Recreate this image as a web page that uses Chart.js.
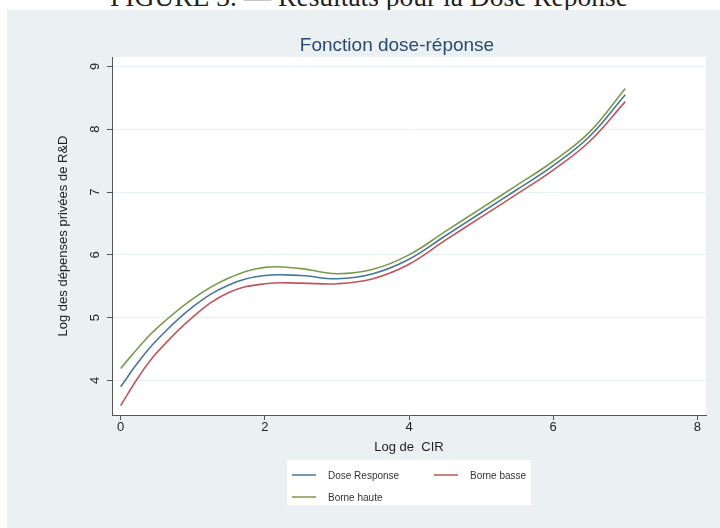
<!DOCTYPE html>
<html>
<head>
<meta charset="utf-8">
<script src="https://cdn.jsdelivr.net/npm/chart.js@4/dist/chart.umd.min.js"></script>
<style>
  html, body { margin: 0; padding: 0; background: #fff; }
  body { width: 720px; height: 528px; position: relative; overflow: hidden; }
  #caption {
    position: absolute; left: 0; top: -17px; width: 738px; text-align: center;
    font-family: "Liberation Serif", "DejaVu Serif", serif; font-size: 27.5px; line-height: 27.5px;
    color: #222; white-space: nowrap;
  }
  #panel {
    position: absolute; left: 7px; top: 10px; width: 713px; height: 518px;
    background: #ebf1f3;
  }
</style>
</head>
<body>
<div id="caption">FIGURE 3. — Résultats pour la Dose Réponse</div>
<div id="panel"><canvas id="doseChart" width="713" height="518"></canvas></div>
<script>
// Valeurs
const logCIR = [0, 0.25, 0.5, 1, 1.5, 2, 2.5, 3, 3.5, 4, 4.5, 5, 5.5, 6, 6.5, 7];
const doseResponse = [3.90, 4.30, 4.64, 5.17, 5.52, 5.67, 5.67, 5.62, 5.70, 5.93, 6.30, 6.67, 7.04, 7.42, 7.88, 8.55];
const borneBasse = [3.60, 4.06, 4.44, 5.01, 5.40, 5.54, 5.55, 5.54, 5.62, 5.85, 6.23, 6.60, 6.97, 7.35, 7.80, 8.44];
const borneHaute = [4.19, 4.53, 4.83, 5.30, 5.63, 5.80, 5.78, 5.70, 5.77, 6.00, 6.37, 6.74, 7.11, 7.49, 7.95, 8.65];
const xTicks = [0, 2, 4, 6, 8];
const yTicks = [4, 5, 6, 7, 8, 9];

const toPoints = ys => logCIR.map((x, i) => ({ x: x, y: ys[i] }));
const font = '"Liberation Sans", Arial, sans-serif';

// fond blanc de la zone de tracé + titre + légende façon Stata
const stataLook = {
  id: 'stataLook',
  beforeDraw(chart) {
    const { ctx, chartArea: a } = chart;
    ctx.save();
    ctx.fillStyle = '#ffffff';
    ctx.fillRect(a.left, a.top, a.right - a.left, a.bottom - a.top);
    ctx.restore();
  },
  afterDraw(chart) {
    const ctx = chart.ctx;
    ctx.save();
    ctx.fillStyle = '#2a4a6f';
    ctx.font = '19px ' + font;
    ctx.textAlign = 'center';
    ctx.textBaseline = 'middle';
    ctx.fillText('Fonction dose-réponse', 390, 36);

    // légende
    ctx.fillStyle = '#ffffff';
    ctx.fillRect(280, 450, 244, 45);
    const slots = [[285, 465], [427, 465], [285, 487]];
    ctx.font = '10px ' + font;
    ctx.textAlign = 'left';
    chart.data.datasets.forEach((ds, i) => {
      const [lx, ly] = slots[i];
      ctx.strokeStyle = ds.borderColor;
      ctx.lineWidth = 1.5;
      ctx.beginPath();
      ctx.moveTo(lx, ly);
      ctx.lineTo(lx + 24, ly);
      ctx.stroke();
      ctx.fillStyle = '#333';
      ctx.fillText(ds.label, lx + 36, ly + 1);
    });
    ctx.restore();
  }
};

const ctx = document.getElementById('doseChart').getContext('2d');
new Chart(ctx, {
  type: 'line',
  data: {
    datasets: [
      { label: 'Dose Response', data: toPoints(doseResponse), borderColor: '#44779f' },
      { label: 'Borne basse', data: toPoints(borneBasse), borderColor: '#c0555a' },
      { label: 'Borne haute', data: toPoints(borneHaute), borderColor: '#7a9c48' }
    ]
  },
  options: {
    responsive: false,
    animation: false,
    layout: { padding: { top: 47, left: 0, right: 14, bottom: 68 } },
    elements: {
      point: { radius: 0 },
      line: { borderWidth: 1.6, tension: 0.4, fill: false }
    },
    plugins: {
      legend: { display: false },
      title: { display: false },
      tooltip: { enabled: false }
    },
    scales: {
      x: {
        type: 'linear',
        min: -0.12,
        max: 8.12,
        afterFit(scale) { scale.height = 45; },
        afterBuildTicks(scale) { scale.ticks = xTicks.map(v => ({ value: v })); },
        grid: { drawOnChartArea: false, tickLength: 5, tickColor: '#555' },
        border: { color: '#555', width: 1 },
        ticks: { padding: 0, color: '#222', font: { family: font, size: 13 } },
        title: {
          display: true, text: 'Log de  CIR', color: '#222',
          font: { family: font, size: 13 }, padding: { top: 0, bottom: 5 }
        }
      },
      y: {
        min: 3.45,
        max: 9.15,
        afterFit(scale) { scale.width = 105; },
        afterBuildTicks(scale) { scale.ticks = yTicks.map(v => ({ value: v })); },
        grid: { color: '#e9f0f1', lineWidth: 1, tickLength: 5, tickColor: '#555' },
        border: { color: '#555', width: 1 },
        ticks: {
          minRotation: 90, maxRotation: 90, crossAlign: 'center', padding: 8,
          color: '#222', font: { family: font, size: 13 }
        },
        title: {
          display: true, text: 'Log des dépenses privées de R&D', color: '#222',
          font: { family: font, size: 13 }, padding: { top: 49, bottom: 0 }
        }
      }
    }
  },
  plugins: [stataLook]
});
</script>
</body>
</html>
